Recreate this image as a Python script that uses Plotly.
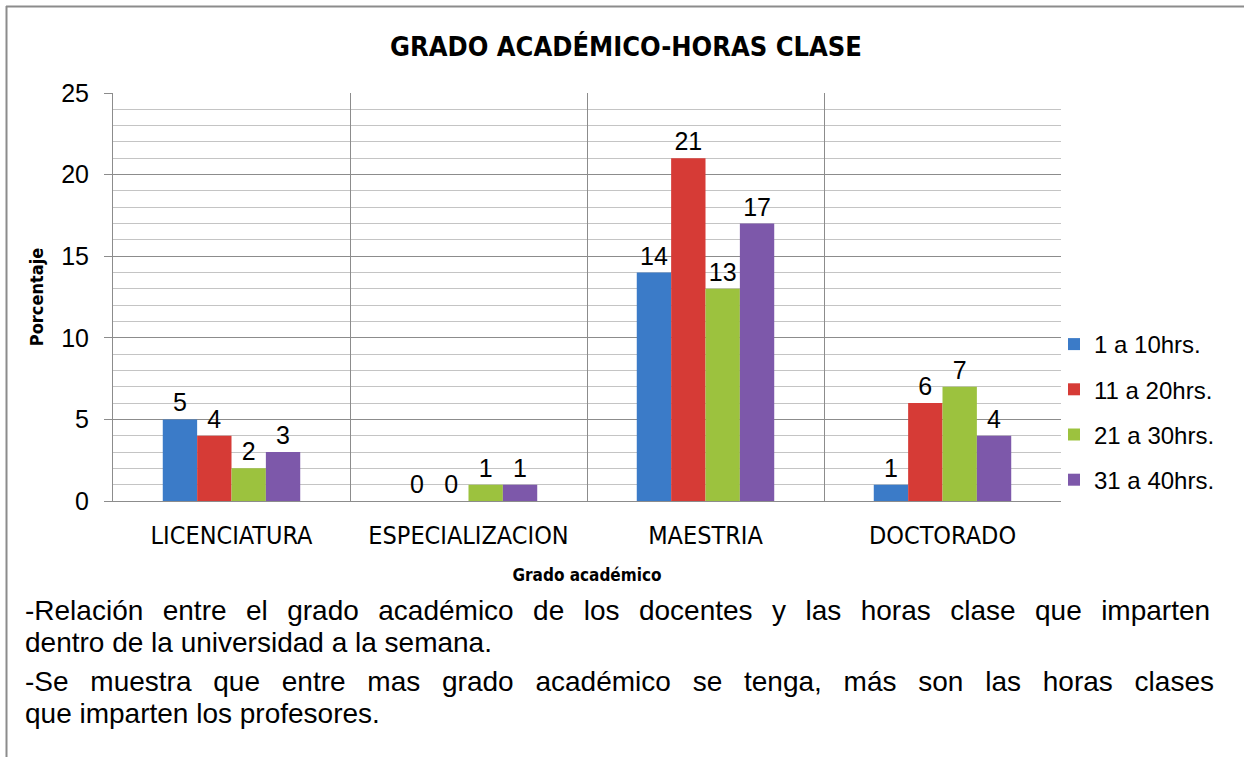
import plotly.graph_objects as go

categories = ["LICENCIATURA", "ESPECIALIZACION", "MAESTRIA", "DOCTORADO"]
series_names = ["1 a 10hrs.", "11 a 20hrs.", "21 a 30hrs.", "31 a 40hrs."]
v_1_10 = [5, 0, 14, 1]
v_11_20 = [4, 0, 21, 6]
v_21_30 = [2, 1, 13, 7]
v_31_40 = [3, 1, 17, 4]
series_values = [v_1_10, v_11_20, v_21_30, v_31_40]
colors = ["#3b7bc8", "#d63b36", "#9cc23e", "#7d58aa"]

title = "GRADO ACADÉMICO-HORAS CLASE"
y_title = "Porcentaje"
x_title = "Grado académico"
notes = [
    "-Relación entre el grado académico de los docentes y las horas clase que imparten",
    "dentro de la universidad a la semana.",
    "-Se muestra que entre mas grado académico se tenga, más son las horas clases",
    "que imparten los profesores.",
]
# extra spacing added after each inter-word space to imitate justified lines
note_gap = ["\u2005\u2006", "", "\u2002", ""]


def justify(line, gap):
    if not gap:
        return line
    return (" " + gap).join(line.split(" "))


W, H = 1244, 757
L, R, T, B = 113, 183, 93, 256
pw, ph = W - L - R, H - T - B


def px_x(p):
    return (p - L) / pw


def px_y(p):
    return (H - B - p) / ph


condensed = "DejaVu Sans Condensed, sans-serif"
arial = "Liberation Sans, Arial, sans-serif"

fig = go.Figure()
for name, vals, c in zip(series_names, series_values, colors):
    fig.add_trace(go.Bar(
        x=categories, y=vals, name=name, legendgroup=name,
        marker=dict(color=c, line=dict(width=0)),
        text=[str(v) for v in vals], textposition="outside",
        textfont=dict(family=arial, size=25, color="#000"),
        cliponaxis=False,
    ))

fig.update_layout(
    width=W, height=H,
    margin=dict(l=L, r=R, t=T, b=B, autoexpand=False),
    paper_bgcolor="white", plot_bgcolor="white",
    barmode="group", bargap=0.42, bargroupgap=0,
    title=dict(text=title, x=px_x(626), xref="paper", xanchor="center",
               y=1 - 47 / H, yanchor="middle",
               font=dict(family=condensed, size=27, color="#000", weight="bold")),
    legend=dict(x=px_x(1054), xanchor="left", y=px_y(322), yanchor="top",
                font=dict(family=arial, size=24, color="#000"),
                tracegroupgap=11, itemwidth=30, bgcolor="rgba(0,0,0,0)"),
    font=dict(family=arial, color="#000"),
)

fig.update_yaxes(
    range=[0, 25], dtick=5, tick0=0,
    showgrid=True, gridcolor="#8c8c8c", gridwidth=1,
    minor=dict(dtick=1, showgrid=True, gridcolor="#c4c4c4", gridwidth=1),
    ticks="outside", ticklen=8, tickcolor="#8c8c8c",
    showline=True, linecolor="#8c8c8c", linewidth=1,
    tickfont=dict(family=arial, size=25, color="#000"),
    ticklabelstandoff=10,
    zeroline=False,
    title=dict(text=y_title, font=dict(family=condensed, size=18, color="#000", weight="bold"),
               standoff=12),
)
fig.update_xaxes(
    tickson="boundaries", showgrid=True, gridcolor="#8c8c8c", gridwidth=1,
    showline=True, linecolor="#8c8c8c", linewidth=1, ticks="",
    tickfont=dict(family=condensed, size=25, color="#000"),
    ticklabelstandoff=12,
    title=dict(text=x_title, font=dict(family=condensed, size=17, color="#000", weight="bold"),
               standoff=20),
)

# outer frame (top and left edges)
fig.add_shape(type="line", xref="paper", yref="paper",
              x0=px_x(6), x1=px_x(W + 5), y0=px_y(6.5), y1=px_y(6.5),
              line=dict(color="#8c8c8c", width=2))
fig.add_shape(type="line", xref="paper", yref="paper",
              x0=px_x(6.5), x1=px_x(6.5), y0=px_y(6), y1=px_y(H + 5),
              line=dict(color="#8c8c8c", width=2))

note_y = [610, 642, 681, 713]
for txt, gap, yy in zip(notes, note_gap, note_y):
    fig.add_annotation(text=justify(txt, gap), xref="paper", yref="paper",
                       x=px_x(23), y=px_y(yy), xanchor="left", yanchor="middle",
                       showarrow=False,
                       font=dict(family=arial, size=28, color="#000"))

fig.write_html("out.html", config={"displayModeBar": False},
               post_script="document.body.style.margin='0px';")
